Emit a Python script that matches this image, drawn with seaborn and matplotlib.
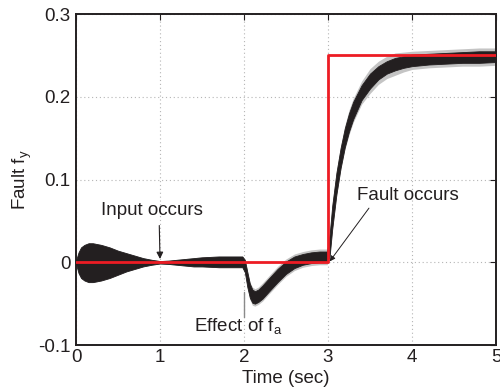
import matplotlib
matplotlib.use("Agg")
import matplotlib.pyplot as plt
import seaborn as sns
import numpy as np
import pandas as pd

# ---- data ----
t_band = [0.0, 0.03, 0.06, 0.1, 0.15, 0.2, 0.3, 0.4, 0.5, 0.6, 0.7, 0.8, 0.9,
          1.0, 1.1, 1.2, 1.3, 1.4, 1.5, 1.6, 1.7, 1.8, 1.9, 1.98,
          2.01, 2.04, 2.07, 2.1, 2.13, 2.17, 2.22, 2.3, 2.4, 2.5, 2.6, 2.7, 2.8, 2.9, 2.99,
          3.02, 3.05, 3.1, 3.15, 3.2, 3.25, 3.3, 3.4, 3.5, 3.6, 3.7, 3.8, 3.9,
          4.0, 4.2, 4.4, 4.6, 4.8, 5.0]
band_upper = [0.002, 0.012, 0.018, 0.021, 0.023, 0.023, 0.021, 0.018, 0.014, 0.011, 0.008, 0.005, 0.003,
              0.0015, 0.002, 0.003, 0.004, 0.005, 0.006, 0.0065, 0.007, 0.007, 0.007, 0.007,
              0.003, -0.012, -0.026, -0.033, -0.035, -0.033, -0.028, -0.019, -0.008, 0.001, 0.007, 0.010, 0.012, 0.013, 0.013,
              0.034, 0.068, 0.108, 0.138, 0.162, 0.180, 0.194, 0.214, 0.228, 0.237, 0.243, 0.247, 0.249,
              0.251, 0.252, 0.253, 0.254, 0.255, 0.255]
band_lower = [-0.002, -0.013, -0.019, -0.022, -0.024, -0.024, -0.022, -0.019, -0.015, -0.011, -0.008, -0.005, -0.003,
              -0.0015, -0.002, -0.003, -0.004, -0.005, -0.005, -0.0055, -0.006, -0.006, -0.006, -0.006,
              -0.012, -0.030, -0.043, -0.049, -0.050, -0.048, -0.044, -0.035, -0.024, -0.014, -0.007, -0.003, -0.001, 0.000, 0.000,
              0.008, 0.040, 0.082, 0.114, 0.139, 0.158, 0.173, 0.196, 0.210, 0.221, 0.228, 0.232, 0.235,
              0.237, 0.239, 0.240, 0.241, 0.241, 0.242]
gray_pad = [0.0005] * 24 + [0.001, 0.002, 0.002, 0.003, 0.003, 0.003, 0.003, 0.003, 0.003, 0.003, 0.003, 0.003, 0.003, 0.003, 0.003,
                             0.002, 0.003, 0.003, 0.003, 0.003, 0.004, 0.004, 0.005, 0.006, 0.006, 0.006, 0.006, 0.005,
                             0.004, 0.004, 0.004, 0.004, 0.004, 0.004]

t_true = [0.0, 3.0, 3.0, 5.0]
f_true = [0.0, 0.0, 0.25, 0.25]

x_ticks = [0, 1, 2, 3, 4, 5]
y_ticks = [-0.1, 0.0, 0.1, 0.2, 0.3]
y_tick_labels = ["-0.1", "0", "0.1", "0.2", "0.3"]

# ---- styling ----
sns.set_theme(style="white")
plt.rcParams["font.family"] = ["Liberation Sans", "DejaVu Sans"]
plt.rcParams["mathtext.fontset"] = "custom"
plt.rcParams["mathtext.rm"] = "Liberation Sans"
plt.rcParams["mathtext.it"] = "Liberation Sans"

FS = 13.5
INK = "#231f20"

fig = plt.figure(figsize=(5.0, 3.91), dpi=100)
ax = fig.add_axes([0.152, 0.1176, 0.840, 0.8465])

tb = np.array(t_band)
up = np.array(band_upper)
lo = np.array(band_lower)
pad = np.array(gray_pad)

ax.fill_between(tb, lo - pad, up + pad, color="#c4c4c4", lw=0, zorder=2)
ax.fill_between(tb, lo, up, color=INK, lw=0.6, edgecolor=INK, zorder=3)

df_true = pd.DataFrame({"t": t_true, "f": f_true})
sns.lineplot(data=df_true, x="t", y="f", sort=False, estimator=None,
             color="#ed1c24", lw=2.0, ax=ax, zorder=4)

ax.set_xlim(0, 5)
ax.set_ylim(-0.1, 0.3)
ax.set_xticks(x_ticks)
ax.set_xticklabels([str(v) for v in x_ticks])
ax.set_yticks(y_ticks)
ax.set_yticklabels(y_tick_labels)
ax.grid(True, color="#b5b5b5", linestyle=(0, (1, 2.5)), lw=0.8, zorder=1)
ax.tick_params(direction="in", length=4, width=0.8, top=True, right=True,
               labelsize=FS, colors=INK)
ax.tick_params(axis="y", pad=4)
ax.tick_params(axis="x", pad=3)
for s in ax.spines.values():
    s.set_color(INK)
    s.set_linewidth(1.4)

ax.set_xlabel("Time (sec)", fontsize=FS, color=INK, labelpad=3)
ax.set_ylabel(r"Fault f$_{\rm y}$", fontsize=FS, color=INK, labelpad=3)

# annotations
ax.annotate("Input occurs", xy=(1.0, 0.004), xytext=(0.905, 0.062),
            fontsize=FS, color=INK, ha="center", va="center",
            arrowprops=dict(arrowstyle="-|>", color=INK, lw=0.8,
                            shrinkA=2, shrinkB=0, mutation_scale=10,
                            relpos=(0.57, 0.0)), zorder=5)
ax.annotate("Fault occurs", xy=(3.02, 0.001), xytext=(3.95, 0.081),
            fontsize=FS, color=INK, ha="center", va="center",
            arrowprops=dict(arrowstyle="-|>", color=INK, lw=0.7,
                            shrinkA=1, shrinkB=0, mutation_scale=8,
                            relpos=(0.15, 0.0)), zorder=5)
ax.text(1.93, -0.077, r"Effect of f$_{\rm a}$", fontsize=FS, color=INK,
        ha="center", va="center", zorder=5)
ax.plot([2.0, 2.0], [-0.036, -0.066], color="#8a8a8a", lw=1.0, zorder=5)

fig.savefig("out.png", dpi=100)
